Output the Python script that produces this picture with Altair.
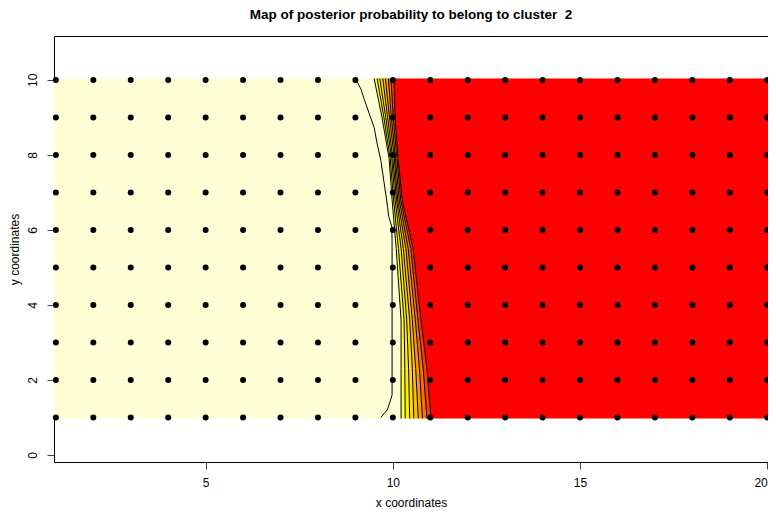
import altair as alt
import pandas as pd

TITLE = "Map of posterior probability to belong to cluster\u00a0 2"

# sampling grid (sites)
grid_x = list(range(1, 21))
grid_y = list(range(1, 11))

# extent of the probability image
img_x0, img_x1 = 0.95, 20.02
img_y0, img_y1 = 0.97, 10.04

# rows at which the contour positions were read
band_y = [10.04, 9.0, 7.9, 6.8, 5.5, 3.6, 2.3, 0.97]

# x position of each contour level at each row
levels = ["0.2", "0.3", "0.4", "0.5", "0.6", "0.7", "0.8", "0.9"]
contour_x = [
    [9.50, 9.71, 9.90, 9.98, 10.09, 10.22, 10.22, 10.22],
    [9.58, 9.76, 9.93, 10.02, 10.15, 10.30, 10.32, 10.33],
    [9.65, 9.81, 9.97, 10.06, 10.22, 10.37, 10.42, 10.45],
    [9.73, 9.86, 10.00, 10.10, 10.28, 10.45, 10.52, 10.56],
    [9.80, 9.91, 10.04, 10.13, 10.35, 10.52, 10.61, 10.68],
    [9.88, 9.96, 10.07, 10.17, 10.41, 10.60, 10.71, 10.79],
    [9.95, 10.01, 10.11, 10.21, 10.48, 10.67, 10.81, 10.91],
    [10.03, 10.06, 10.14, 10.25, 10.54, 10.75, 10.91, 11.02],
]

# outermost (lowest) contour, wiggly
left_x = [9.02, 9.15, 9.23, 9.37, 9.50, 9.58, 9.68, 9.76, 9.82, 9.86, 9.89,
          9.97, 9.98, 9.98, 9.92, 9.85, 9.68]
left_y = [10.0, 9.75, 9.5, 9.1, 8.73, 8.3, 7.85, 7.3, 6.9, 6.6, 6.35,
          6.1, 5.7, 1.6, 1.4, 1.2, 1.0]

pale = "#FFFFD5"
band_colors = ["#FFFF30", "#FFF000", "#FFDA00", "#FFBE00", "#FF9A00",
               "#FF6E00", "#FF3A00", "#FF0000"]

# ---- data frames ----
img_df = pd.DataFrame({"x": [img_x0], "x2": [img_x1], "y": [img_y0], "y2": [img_y1]})

band_rows = []
for k in range(len(levels)):
    for i, yy in enumerate(band_y):
        x_left = contour_x[k][i]
        x_right = contour_x[k + 1][i] if k + 1 < len(levels) else img_x1
        band_rows.append({"band": k, "y": yy, "x": x_left, "x2": x_right})
band_df = pd.DataFrame(band_rows)

line_rows = []
for k, lev in enumerate(levels):
    for i, yy in enumerate(band_y):
        line_rows.append({"level": lev, "i": i, "y": yy, "x": contour_x[k][i]})
for i, (xx, yy) in enumerate(zip(left_x, left_y)):
    line_rows.append({"level": "0.1", "i": i, "y": yy, "x": xx})
line_df = pd.DataFrame(line_rows)

pts_df = pd.DataFrame([{"x": a, "y": b} for b in grid_y for a in grid_x])

xscale = alt.Scale(domain=[0.95, 20.02], nice=False, zero=False)
yscale = alt.Scale(domain=[-0.19, 11.17], nice=False, zero=False)

xaxis = alt.Axis(values=[5, 10, 15, 20], title="x coordinates", labelPadding=8,
                 titlePadding=9)
yaxis = alt.Axis(values=[0, 2, 4, 6, 8, 10], title="y coordinates",
                 labelAngle=270, labelAlign="center", labelBaseline="bottom",
                 labelPadding=8, titleX=-40, titleY=213, titleAlign="center",
                 titleBaseline="middle")

img = alt.Chart(img_df).mark_rect(color=pale, clip=True).encode(
    x=alt.X("x:Q", scale=xscale, axis=xaxis),
    x2="x2:Q",
    y=alt.Y("y:Q", scale=yscale, axis=yaxis),
    y2="y2:Q",
)

bands = alt.Chart(band_df).mark_area(orient="horizontal", clip=True).encode(
    y=alt.Y("y:Q", scale=yscale, axis=yaxis),
    x=alt.X("x:Q", scale=xscale, axis=xaxis),
    x2="x2:Q",
    color=alt.Color("band:N", scale=alt.Scale(domain=list(range(len(levels))),
                                              range=band_colors), legend=None),
)

lines = alt.Chart(line_df).mark_line(color="black", strokeWidth=1, clip=True).encode(
    x=alt.X("x:Q", scale=xscale, axis=xaxis),
    y=alt.Y("y:Q", scale=yscale, axis=yaxis),
    detail="level:N",
    order="i:Q",
)

pts = alt.Chart(pts_df).mark_circle(size=36, color="black", opacity=1).encode(
    x=alt.X("x:Q", scale=xscale, axis=xaxis),
    y=alt.Y("y:Q", scale=yscale, axis=yaxis),
)

chart = alt.layer(img, bands, lines, pts).properties(
    width=714,
    height=426,
    autosize=alt.AutoSizeParams(type="none"),
    padding={"left": 46, "top": 28, "right": 0, "bottom": 48},
    title=alt.TitleParams(TITLE, font="Liberation Sans", fontSize=13.5,
                          fontWeight="bold", anchor="middle", baseline="alphabetic",
                          offset=4, color="black"),
).configure_view(
    stroke="black", strokeWidth=1
).configure_axis(
    domain=False, grid=False, tickSize=7, tickColor="#444",
    labelFont="Liberation Sans", labelFontSize=12, labelColor="black",
    titleFont="Liberation Sans", titleFontSize=12, titleFontWeight="normal",
    titleColor="black",
)

chart.save("out.html", embed_options={"renderer": "svg", "actions": False})
